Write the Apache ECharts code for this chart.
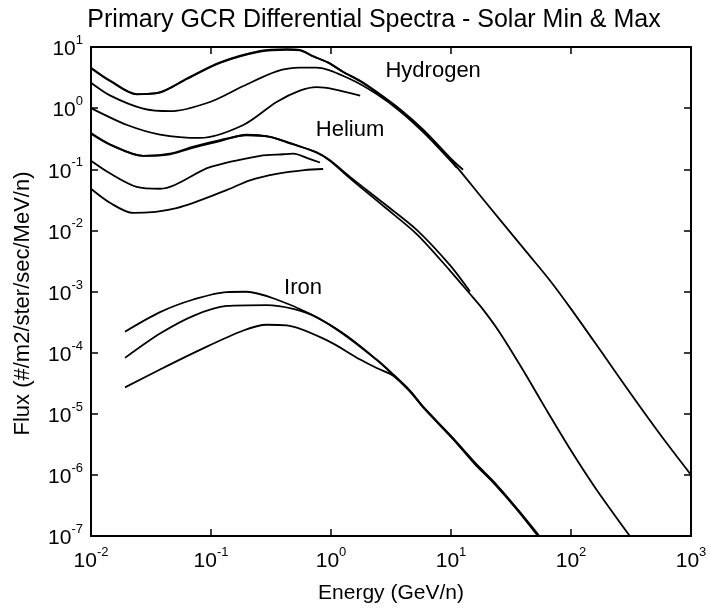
<!DOCTYPE html>
<html>
<head>
<meta charset="utf-8">
<script src="https://cdn.jsdelivr.net/npm/echarts@6/dist/echarts.min.js"></script>
<style>
  html, body { margin: 0; padding: 0; background: #fff; }
  #chart { width: 710px; height: 609px; }
</style>
</head>
<body>
<div id="chart"></div>
<script>
// ---- Data (Energy in GeV/n, Flux in #/m2/ster/sec/MeV/n) ----
// Hydrogen
const hMinE    = [0.01, 0.0145, 0.024, 0.0376, 0.063, 0.119, 0.257, 0.43, 0.55, 0.71, 0.944, 1.26, 1.75, 2.4, 3.76, 5.9, 9.8, 18.6, 42.7, 67, 100, 178, 316, 562, 1000];
const hMinFlux = [4.6, 2.8, 1.7, 1.8, 3.0, 5.5, 8.4, 9.0, 8.8, 7.0, 5.55, 3.9, 2.75, 1.8, 0.93, 0.42, 0.148, 0.032, 4.4e-3, 1.5e-3, 5.2e-4, 1.05e-4, 2.1e-5, 4.4e-6, 1.0e-6];
const hMin2E    = [0.01, 0.0145, 0.024, 0.0376, 0.063, 0.119, 0.257, 0.43, 0.55, 0.71, 0.944, 1.26, 1.75, 2.4, 3.76, 5.9, 9.8, 12.6];
const hMin2Flux = [4.5, 2.75, 1.68, 1.82, 3.05, 5.6, 8.6, 9.2, 9.0, 7.1, 5.6, 3.95, 2.8, 1.85, 0.96, 0.44, 0.155, 0.098];
const hMidE    = [0.01, 0.0145, 0.0272, 0.0457, 0.098, 0.186, 0.352, 0.55, 0.76, 1.44, 2.4, 3.76, 5.9, 9.8, 11.2];
const hMidFlux = [2.6, 1.6, 0.98, 0.89, 1.26, 2.3, 4.0, 4.6, 4.6, 3.0, 1.7, 0.89, 0.40, 0.141, 0.105];
const hMaxE    = [0.01, 0.02, 0.0376, 0.081, 0.186, 0.352, 0.55, 0.76, 1.04, 1.75];
const hMaxFlux = [1.0, 0.53, 0.37, 0.325, 0.53, 1.26, 1.93, 2.2, 2.05, 1.6];
// Helium
const heMinE    = [0.01, 0.0145, 0.0272, 0.0455, 0.0713, 0.119, 0.198, 0.31, 0.455, 0.76, 0.98, 1.44, 2.73, 5.18, 9.8, 14.4, 18.6, 25.6, 39.8, 61.7, 100, 158, 309];
const heMinFlux = [0.39, 0.254, 0.166, 0.176, 0.225, 0.288, 0.367, 0.34, 0.27, 0.187, 0.138, 0.071, 0.025, 8.7e-3, 2.2e-3, 9.1e-4, 5.0e-4, 2.1e-4, 5.2e-5, 1.2e-5, 2.5e-6, 6.3e-7, 1.0e-7];
const heMin2E    = [0.01, 0.0145, 0.0272, 0.0455, 0.0713, 0.119, 0.198, 0.31, 0.455, 0.76, 0.98, 1.44, 2.73, 5.18, 9.8, 14.4];
const heMin2Flux = [0.38, 0.25, 0.165, 0.18, 0.235, 0.30, 0.36, 0.34, 0.265, 0.19, 0.14, 0.075, 0.028, 0.0102, 2.7e-3, 1.0e-3];
const heMidE    = [0.01, 0.0145, 0.024, 0.0376, 0.098, 0.257, 0.40, 0.485, 0.67, 0.81];
const heMidFlux = [0.138, 0.085, 0.0515, 0.048, 0.108, 0.166, 0.176, 0.18, 0.146, 0.129];
const heMaxE    = [0.01, 0.0145, 0.0224, 0.0516, 0.135, 0.211, 0.352, 0.60, 0.86];
const heMaxFlux = [0.048, 0.028, 0.0193, 0.0232, 0.0456, 0.066, 0.084, 0.097, 0.101];
// Iron
const feMinE    = [0.0192, 0.0376, 0.0713, 0.135, 0.198, 0.352, 0.668, 1.27, 2.4, 3.3, 4.55, 5.97, 10.4, 15.8, 22.9, 35.5, 54.5];
const feMinFlux = [2.2e-4, 4.6e-4, 7.4e-4, 9.8e-4, 9.9e-4, 7.4e-4, 4.3e-4, 2.05e-4, 7.7e-5, 4.4e-5, 2.4e-5, 1.26e-5, 4.0e-6, 1.6e-6, 7.6e-7, 2.8e-7, 1.0e-7];
const feMidE    = [0.0192, 0.0376, 0.0713, 0.135, 0.291, 0.485, 0.76, 1.27, 2.4, 3.3, 4.55, 5.97, 10.4, 15.8, 22.9, 35.5, 53.5];
const feMidFlux = [8.2e-5, 2.05e-4, 4.0e-4, 5.8e-4, 6.0e-4, 5.2e-4, 3.8e-4, 2.0e-4, 7.6e-5, 4.3e-5, 2.35e-5, 1.23e-5, 3.9e-6, 1.55e-6, 7.4e-7, 2.75e-7, 1.0e-7];
const feMaxE    = [0.0192, 0.0376, 0.081, 0.186, 0.291, 0.427, 0.92, 1.75, 2.4, 3.3, 4.55, 5.97, 10.4, 15.8, 22.9, 35.5, 53];
const feMaxFlux = [2.7e-5, 5.3e-5, 1.11e-4, 2.3e-4, 2.86e-4, 2.8e-4, 1.6e-4, 7.7e-5, 5.6e-5, 4.2e-5, 2.3e-5, 1.22e-5, 3.85e-6, 1.5e-6, 7.2e-7, 2.7e-7, 1.0e-7];
// Curve labels: [energy, flux, text]
const curveLabels = [[7.1, 4.0, 'Hydrogen'], [1.44, 0.44, 'Helium'], [0.585, 1.16e-3, 'Iron']];
// Axis decades
const xDecades = [-2, -1, 0, 1, 2, 3];
const yDecades = [-7, -6, -5, -4, -3, -2, -1, 0, 1];

const titleText = 'Primary GCR Differential Spectra - Solar Min & Max';
const xName = 'Energy (GeV/n)';
const yName = 'Flux (#/m2/ster/sec/MeV/n)';

const FONT = '"Liberation Sans", Arial, Helvetica, sans-serif';
const pair = (xs, ys) => xs.map((x, i) => [x, ys[i]]);
const curves = [
  [hMinE, hMinFlux], [hMin2E, hMin2Flux], [hMidE, hMidFlux], [hMaxE, hMaxFlux],
  [heMinE, heMinFlux], [heMin2E, heMin2Flux], [heMidE, heMidFlux], [heMaxE, heMaxFlux],
  [feMinE, feMinFlux], [feMidE, feMidFlux], [feMaxE, feMaxFlux]
];

const supFmt = v => '{b|10}{s|' + Math.round(Math.log10(v)) + '}';
const richSup = {
  b: { fontSize: 21, fontFamily: FONT, color: '#000', verticalAlign: 'bottom', lineHeight: 26 },
  s: { fontSize: 13, fontFamily: FONT, color: '#000', verticalAlign: 'top', lineHeight: 26 }
};

const xMin = Math.pow(10, xDecades[0]), xMax = Math.pow(10, xDecades[xDecades.length - 1]);
const yMin = Math.pow(10, yDecades[0]), yMax = Math.pow(10, yDecades[yDecades.length - 1]);

const axisCommon = {
  type: 'log', logBase: 10,
  axisLine: { show: true, lineStyle: { color: '#000', width: 2 } },
  axisTick: { show: true, inside: true, length: 7, lineStyle: { color: '#000', width: 1.5 } },
  splitLine: { show: false },
  minorTick: { show: false }
};

const series = curves.map(c => ({
  type: 'line',
  data: pair(c[0], c[1]),
  showSymbol: false,
  smooth: 0.3,
  lineStyle: { color: '#000', width: 1.8 },
  xAxisIndex: 0, yAxisIndex: 0,
  silent: true
}));
series.push({
  type: 'scatter',
  data: curveLabels,
  symbolSize: 0,
  itemStyle: { color: '#000', opacity: 1 },
  label: {
    show: true, position: 'inside',
    formatter: p => p.value[2],
    fontSize: 22, fontFamily: FONT, color: '#000', opacity: 1, textBorderWidth: 0
  },
  emphasis: { disabled: true },
  xAxisIndex: 0, yAxisIndex: 0,
  silent: true
});

const chart = echarts.init(document.getElementById('chart'), null, { renderer: 'canvas' });
chart.setOption({
  animation: false,
  backgroundColor: '#fff',
  title: {
    text: titleText,
    left: 369, top: 3, textAlign: 'center',
    textStyle: { fontSize: 25, fontWeight: 'normal', fontFamily: FONT, color: '#000' }
  },
  grid: { left: 91, right: 19, top: 47, bottom: 62, containLabel: false },
  xAxis: [
    Object.assign({}, axisCommon, {
      position: 'bottom', min: xMin, max: xMax, splitNumber: 5,
      name: xName, nameLocation: 'middle', nameGap: 47,
      nameTextStyle: { fontSize: 21, fontFamily: FONT, color: '#000' },
      axisLabel: { formatter: supFmt, rich: richSup, margin: 10 }
    }),
    Object.assign({}, axisCommon, {
      position: 'top', min: xMin, max: xMax, splitNumber: 5,
      axisLabel: { show: false }
    })
  ],
  yAxis: [
    Object.assign({}, axisCommon, {
      position: 'left', min: yMin, max: yMax, splitNumber: 8,
      name: yName, nameLocation: 'middle', nameGap: 57,
      nameTextStyle: { fontSize: 22, fontFamily: FONT, color: '#000', padding: [0, 24, 0, 0] },
      axisLabel: { formatter: supFmt, rich: richSup, margin: 8 }
    }),
    Object.assign({}, axisCommon, {
      position: 'right', min: yMin, max: yMax, splitNumber: 8,
      axisLabel: { show: false }
    })
  ],
  series: series
});
</script>
</body>
</html>
